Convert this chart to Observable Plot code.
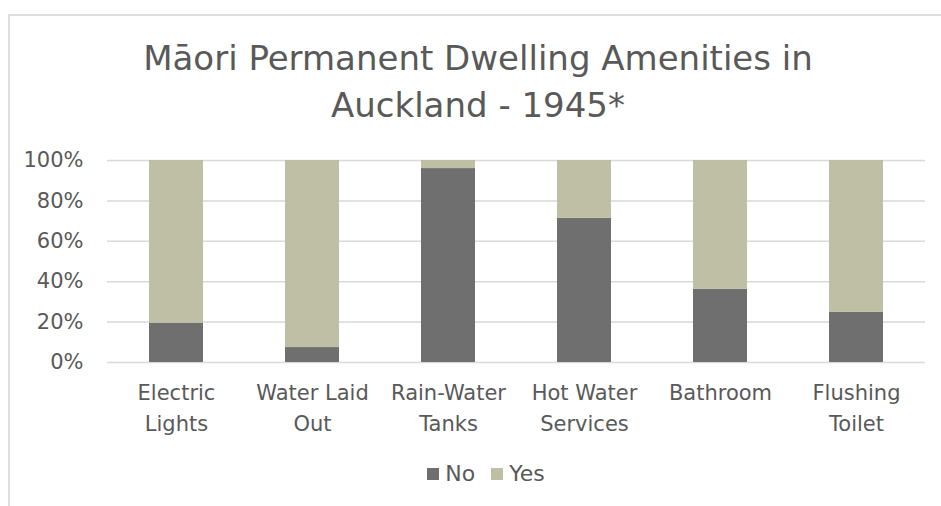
<!DOCTYPE html>
<html>
<head>
<meta charset="utf-8">
<script src="https://cdn.jsdelivr.net/npm/d3@7"></script>
<script src="https://cdn.jsdelivr.net/npm/@observablehq/plot@0.6"></script>
<style>
  html, body { margin: 0; padding: 0; background: #fff; width: 941px; height: 506px; overflow: hidden; }
  body { position: relative; font-family: "DejaVu Sans", sans-serif; color: #595959; }
  #frame { position: absolute; left: 8px; top: 14px; width: 1000px; height: 600px; border: 2px solid #dedede; box-sizing: border-box; }
  #title { position: absolute; left: 0; width: 956px; top: 35px; text-align: center; font-size: 34px; line-height: 47px; color: #595959; }
  #chart { position: absolute; left: 0; top: 140px; }
  #legend { position: absolute; left: 0; width: 972px; top: 463px; display: flex; justify-content: center; align-items: center; font-size: 22px; line-height: 22px; color: #595959; }
  .sw { display: inline-block; width: 12px; height: 12px; margin-right: 6px; }
  .item { display: flex; align-items: center; margin: 0 8px; }
</style>
</head>
<body>
<div id="frame"></div>
<div id="title">Māori Permanent Dwelling Amenities in<br>Auckland - 1945*</div>
<div id="chart"></div>
<div id="legend"></div>
<script>
const categories = ["Electric Lights", "Water Laid Out", "Rain-Water Tanks", "Hot Water Services", "Bathroom", "Flushing Toilet"];
const tickLabels = ["Electric\nLights", "Water Laid\nOut", "Rain-Water\nTanks", "Hot Water\nServices", "Bathroom", "Flushing\nToilet"];
const seriesNames = ["No", "Yes"];
const noValues = [0.195, 0.074, 0.96, 0.714, 0.363, 0.248];
const yesValues = [0.805, 0.926, 0.04, 0.286, 0.637, 0.752];
const yTicks = [0, 0.2, 0.4, 0.6, 0.8, 1];
const colors = ["#6f6f6f", "#bfbfa5"];

const data = [];
categories.forEach((c, i) => {
  data.push({category: c, series: "No", value: noValues[i]});
  data.push({category: c, series: "Yes", value: yesValues[i]});
});

const chart = Plot.plot({
  width: 941,
  height: 300,
  marginTop: 20,
  marginBottom: 78,
  marginLeft: 107,
  marginRight: 16,
  style: {fontFamily: "DejaVu Sans, sans-serif", fontSize: "21px", color: "#595959", background: "transparent"},
  x: {domain: categories, paddingInner: 0.6, paddingOuter: 0.3, label: null},
  y: {domain: [0, 1], label: null},
  color: {domain: seriesNames, range: colors},
  marks: [
    Plot.ruleY(yTicks, {stroke: "#d9d9d9", strokeWidth: 1.5}),
    Plot.barY(data, Plot.stackY({x: "category", y: "value", fill: "series", order: seriesNames})),
    Plot.axisY(yTicks, {tickSize: 0, tickPadding: 24, tickFormat: d => Math.round(d * 100) + "%", fontSize: 21, fill: "#595959"}),
    Plot.axisX({tickSize: 0, tickPadding: 16, tickFormat: d => tickLabels[categories.indexOf(d)], fontSize: 21, lineHeight: 1.45, fill: "#595959"})
  ]
});
document.getElementById("chart").appendChild(chart);

const legend = document.getElementById("legend");
seriesNames.forEach((s, i) => {
  const item = document.createElement("span");
  item.className = "item";
  item.innerHTML = `<span class="sw" style="background:${colors[i]}"></span>${s}`;
  legend.appendChild(item);
});
</script>
</body>
</html>
